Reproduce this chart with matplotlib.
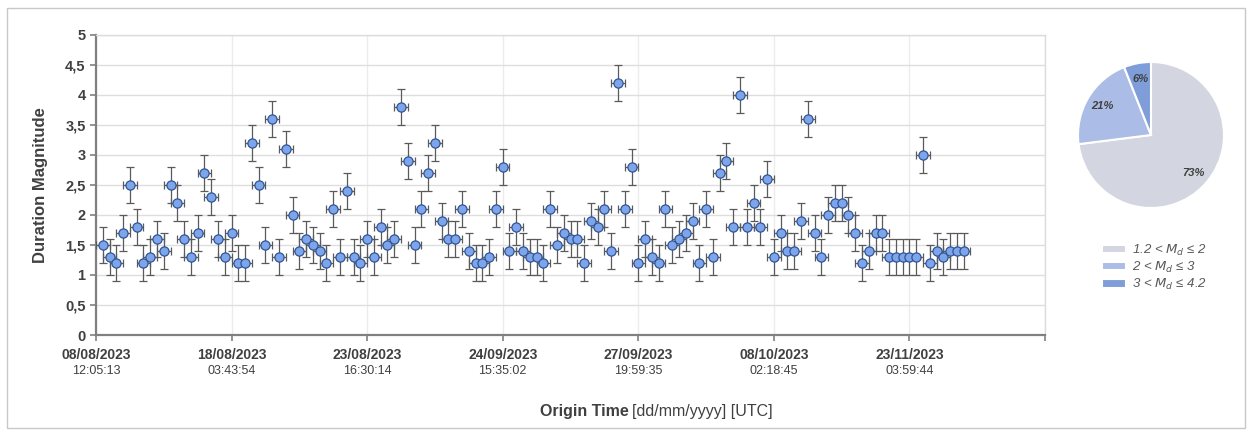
import matplotlib
matplotlib.use("Agg")
import matplotlib.pyplot as plt
import matplotlib.patches as mpatches
import numpy as np

plt.rcParams['font.family'] = ['Liberation Sans', 'DejaVu Sans']

# duration magnitude of each event, in order of origin time
md = [1.5, 1.3, 1.2, 1.7, 2.5, 1.8, 1.2, 1.3, 1.6, 1.4,
      2.5, 2.2, 1.6, 1.3, 1.7, 2.7, 2.3, 1.6, 1.3, 1.7,
      1.2, 1.2, 3.2, 2.5, 1.5, 3.6, 1.3, 3.1, 2.0, 1.4,
      1.6, 1.5,
      1.4, 1.2, 2.1, 1.3, 2.4, 1.3, 1.2, 1.6, 1.3, 1.8,
      1.5, 1.6, 3.8, 2.9, 1.5, 2.1, 2.7, 3.2, 1.9, 1.6,
      1.6, 2.1, 1.4, 1.2, 1.2, 1.3, 2.1, 2.8, 1.4, 1.8,
      1.4, 1.3, 1.3,
      1.2, 2.1, 1.5, 1.7, 1.6, 1.6, 1.2, 1.9, 1.8, 2.1,
      1.4, 4.2, 2.1, 2.8, 1.2, 1.6, 1.3, 1.2, 2.1, 1.5,
      1.6, 1.7, 1.9, 1.2, 2.1, 1.3, 2.7, 2.9, 1.8, 4.0,
      1.8, 2.2, 1.8,
      2.6, 1.3, 1.7, 1.4, 1.4, 1.9, 3.6, 1.7, 1.3, 2.0,
      2.2, 2.2, 2.0, 1.7, 1.2, 1.4, 1.7, 1.7, 1.3, 1.3,
      1.3, 1.3, 1.3, 3.0, 1.2, 1.4, 1.3, 1.4, 1.4, 1.4]
md_err = 0.3
idx_err = 1.0

tick_pos = [0, 20, 40, 60, 80, 100, 120, 140]
tick_dates = ['08/08/2023', '18/08/2023', '23/08/2023', '24/09/2023',
              '27/09/2023', '08/10/2023', '23/11/2023', '']
tick_times = ['12:05:13', '03:43:54', '16:30:14', '15:35:02',
              '19:59:35', '02:18:45', '03:59:44', '']

pie_pct = [73, 21, 6]
pie_labels = [r'1.2 < $M_d$ ≤ 2', r'2 < $M_d$ ≤ 3', r'3 < $M_d$ ≤ 4.2']
pie_colors = ['#d3d6e0', '#abbde6', '#7f9dd8']

W, H = 1252, 436
fig = plt.figure(figsize=(W / 100, H / 100), dpi=100)
fig.patch.set_facecolor('white')

# outer chart frame
fig.patches.append(mpatches.Rectangle((7 / W, 8 / H), 1238 / W, 420 / H,
                                      transform=fig.transFigure, fill=False,
                                      edgecolor='#c8c8c8', lw=1.0))

ax = fig.add_axes([96 / W, 1 - 335 / H, 949 / W, 300 / H])
x = np.arange(1, len(md) + 1)
ax.errorbar(x, md, yerr=md_err, xerr=idx_err, fmt='o', ms=6.6,
            mfc='#7ea5ea', mec='#2f5597', mew=0.9,
            ecolor='#5a5a5a', elinewidth=0.9, capsize=3, capthick=0.9, zorder=3)

ax.set_xlim(0, 140)
ax.set_ylim(0, 5)
ax.set_yticks(np.arange(0, 5.01, 0.5))
ax.set_yticklabels([('%g' % v).replace('.', ',') for v in np.arange(0, 5.01, 0.5)],
                   fontsize=10.5, fontweight='bold', color='#404040')
ax.set_xticks(tick_pos)
ax.set_xticklabels([])
ax.tick_params(axis='both', direction='out', length=4, color='#808080', width=1.2)
ax.grid(axis='y', color='#dedede', lw=1.0)
ax.grid(axis='x', color='#ececec', lw=1.0)
ax.set_axisbelow(True)
for s in ['left', 'bottom']:
    ax.spines[s].set_color('#808080')
    ax.spines[s].set_linewidth(1.6)
for s in ['top', 'right']:
    ax.spines[s].set_color('#dcdcdc')
    ax.spines[s].set_linewidth(1.0)

trans = ax.get_xaxis_transform()
for p, d, t in zip(tick_pos, tick_dates, tick_times):
    ax.text(p, -0.065, d, transform=trans, ha='center', va='center',
            fontsize=10, fontweight='bold', color='#404040')
    ax.text(p, -0.12, t, transform=trans, ha='center', va='center',
            fontsize=9, color='#404040')

ax.set_ylabel('Duration Magnitude', fontsize=12, fontweight='bold',
              color='#404040', labelpad=12)
fig.text(629 / W, 1 - 411 / H, 'Origin Time', ha='right', va='center',
         fontsize=11.5, fontweight='bold', color='#404040')
fig.text(632 / W, 1 - 411 / H, '[dd/mm/yyyy] [UTC]', ha='left', va='center',
         fontsize=11.5, color='#404040')

# pie of magnitude classes
pax = fig.add_axes([1078 / W, 1 - 208 / H, 146 / W, 146 / H])
wedges, _, autotexts = pax.pie(pie_pct, colors=pie_colors, startangle=90,
                               counterclock=False, autopct='%d%%', pctdistance=0.78,
                               wedgeprops=dict(edgecolor='white', linewidth=1.5))
for t in autotexts:
    t.set_fontsize(8)
    t.set_fontstyle('italic')
    t.set_fontweight('bold')
    t.set_color('#404040')
pax.set_xlim(-1, 1)
pax.set_ylim(-1, 1)
pax.set_aspect('equal')

fig.legend(wedges, pie_labels, loc='upper left',
           bbox_to_anchor=(1090 / W, 1 - 231 / H), frameon=False,
           handlelength=1.8, handleheight=0.6, labelspacing=0.15,
           handletextpad=0.5, prop={'style': 'italic', 'size': 9.5},
           labelcolor='#595959')

fig.savefig('out.png', dpi=100)
